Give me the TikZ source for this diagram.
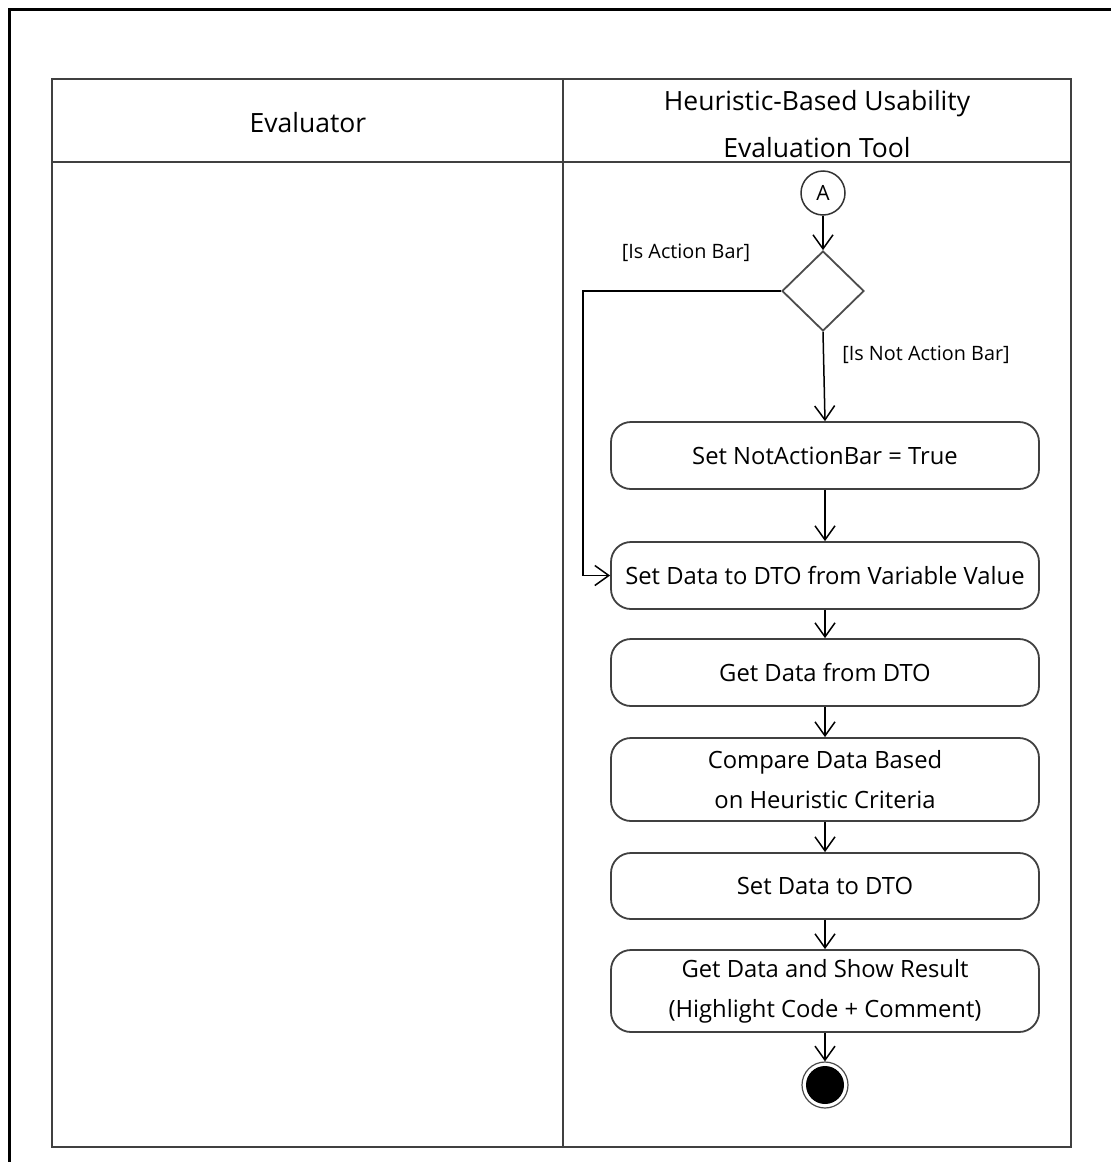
\documentclass[tikz,border=0pt]{standalone}
\usepackage{fontspec}
\setmainfont{Open Sans}
\usetikzlibrary{arrows.meta,shapes.geometric}
\begin{document}
\begin{tikzpicture}[x=1pt,y=-1pt,
  lane/.style={draw=black!75,line width=2.5pt},
  act/.style={draw=black!75,line width=1.8pt,rounded corners=20pt,minimum width=428pt,
    align=center,inner sep=0pt,font=\fontsize{23.8}{40}\selectfont},
  flow/.style={-{Straight Barb[length=14pt,width=20pt,line width=1.5pt]},line width=1.5pt},
  guard/.style={font=\fontsize{19.8}{22}\selectfont,inner sep=0pt},
  head/.style={font=\fontsize{26.5}{47}\selectfont,align=center,inner sep=0pt}
]
\useasboundingbox (0,0) rectangle (1111,1162);
\fill[white] (0,0) rectangle (1111,1162);
% page frame
\begin{scope}
  \clip (0,0) rectangle (1111,1162);
  \draw[line width=3pt] (9,9) rectangle (1140,1190);
\end{scope}
% swimlanes
\draw[lane] (52,79) rectangle (1071,1147);
\draw[lane,line width=2pt] (52,162) -- (1071,162);
\draw[lane,line width=2pt] (563,79) -- (563,1147);
\node[head] (h1) at (308,123) {Evaluator};
\node[head] (h2) at (817,124) {Heuristic-Based Usability\\Evaluation Tool};
% flow
\node[circle,draw=black!80,line width=1.5pt,minimum size=44pt,inner sep=0pt,
  font=\fontsize{21}{24}\selectfont] (A) at (823,193) {A};
\node[diamond,draw=black!70,line width=1.8pt,minimum width=82pt,minimum height=80pt,
  inner sep=0pt] (d) at (823,291) {};
\node[guard] (g1) at (686,253) {[Is Action Bar]};
\node[guard] (g2) at (926,355) {[Is Not Action Bar]};
\node[act,minimum height=67pt] (a1) at (825,455.5) {Set NotActionBar = True};
\node[act,minimum height=67pt] (a2) at (825,575.5) {Set Data to DTO from Variable Value};
\node[act,minimum height=67pt] (a3) at (825,672.5) {Get Data from DTO};
\node[act,minimum height=83pt] (a4) at (825,779.5) {Compare Data Based\\on Heuristic Criteria};
\node[act,minimum height=66pt] (a5) at (825,886) {Set Data to DTO};
\node[act,minimum height=82pt] (a6) at (825,991) {Get Data and Show Result\\(Highlight Code + Comment)};
\node[circle,draw=black!70,line width=1.2pt,minimum size=46pt,inner sep=0pt] (f) at (825,1085) {};
\fill[black] (f.center) circle (19pt);
\draw[flow] (A) -- (d.north);
\draw[flow] (d.south) -- (a1.north);
\draw[flow] (d.west) -- ++(-198,0) |- (a2.west);
\draw[flow] (a1) -- (a2);
\draw[flow] (a2) -- (a3);
\draw[flow] (a3) -- (a4);
\draw[flow] (a4) -- (a5);
\draw[flow] (a5) -- (a6);
\draw[flow] (a6) -- (f);
\end{tikzpicture}
\end{document}
